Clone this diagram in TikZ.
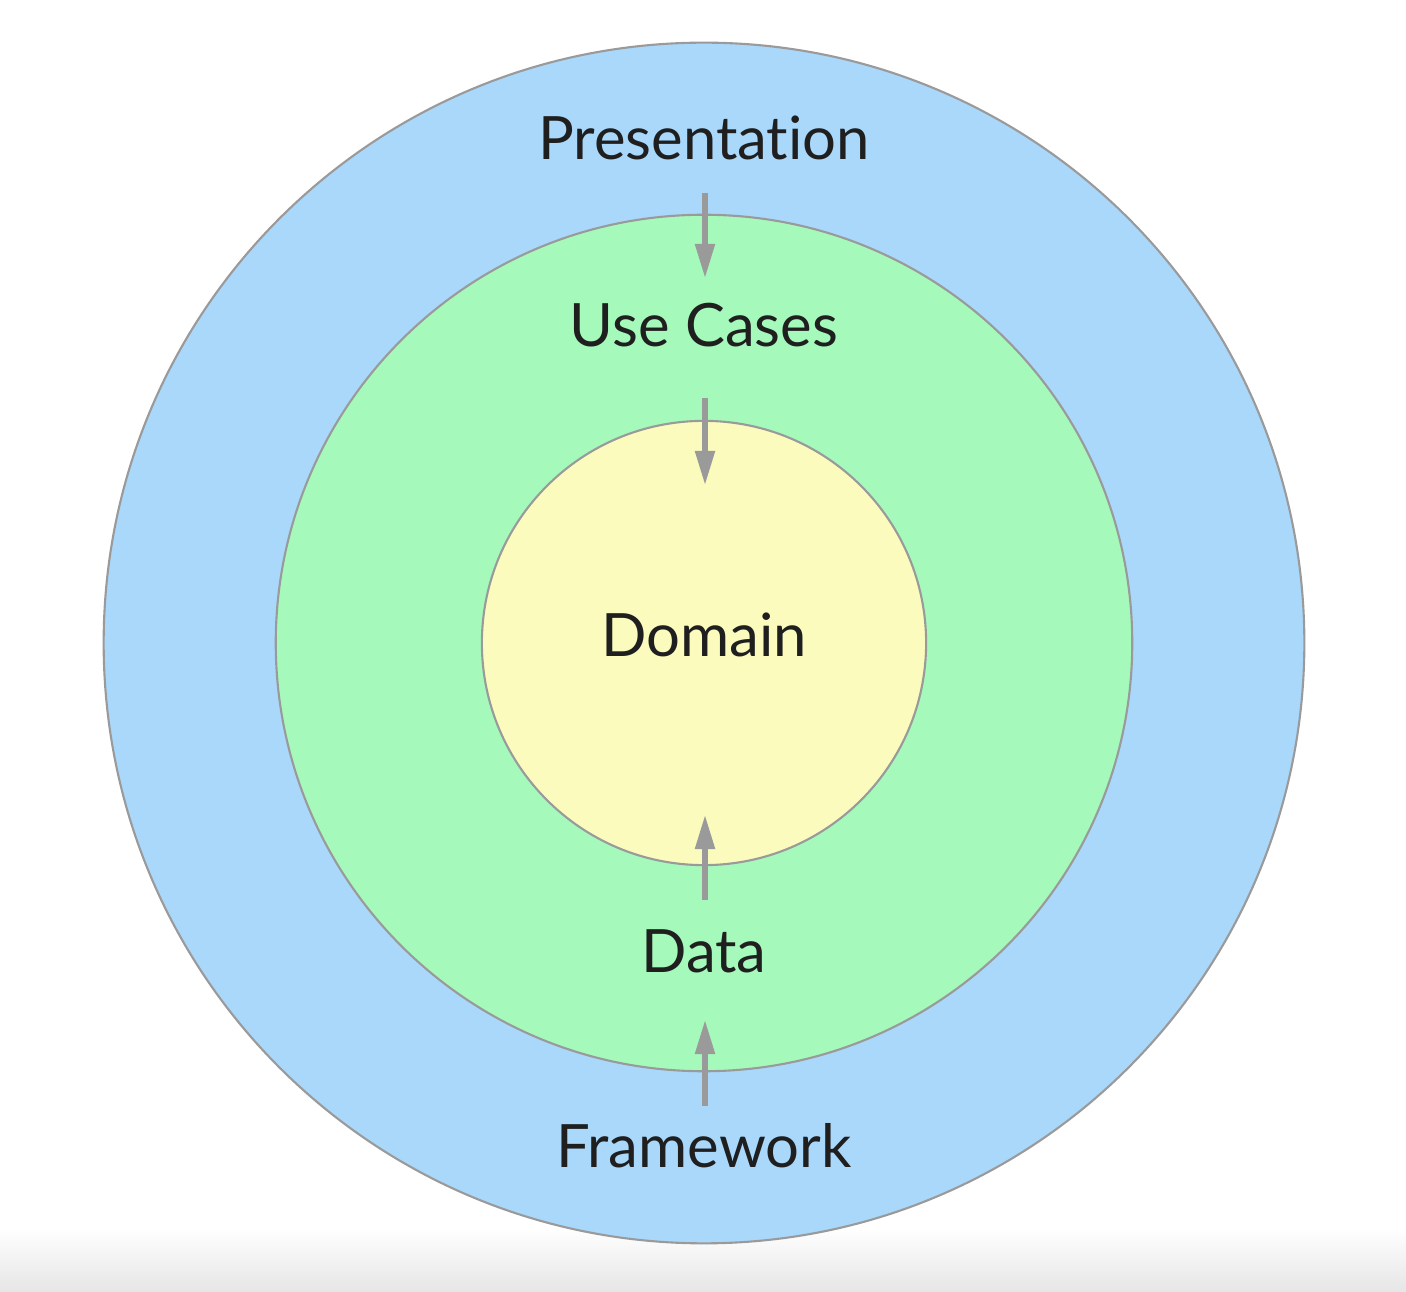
\documentclass[tikz,border=0pt]{standalone}
\usepackage{fontspec}
\setmainfont{Lato}[Ligatures=NoCommon]
\usepackage{tikz}
\usepackage{xcolor}
\usetikzlibrary{arrows.meta}

\definecolor{ringblue}{HTML}{A9D8FB}
\definecolor{ringgreen}{HTML}{A5FABB}
\definecolor{coreyellow}{HTML}{FBFBBE}
\definecolor{edgegray}{HTML}{9A9A9A}

\tikzset{
  ring/.style={circle, draw=edgegray, line width=0.6pt, inner sep=0pt},
  layer/.style={font=\fontsize{17}{20}\selectfont, text=black!88, anchor=base},
  dep/.style={line width=1.5pt, draw=edgegray, -{Triangle[length=0.34cm,width=0.19cm]}}
}

\begin{document}
\begin{tikzpicture}[x=0.01cm, y=-0.01cm]
        \useasboundingbox (0,0) rectangle (1406,1292);
        \fill[white] (0,0) rectangle (1406,1292);
        \shade[top color=white, bottom color=black!10] (0,1228) rectangle (1406,1292);
        \node[ring, fill=ringblue, minimum size=12cm] (outer) at (704,643) {};
        \node[ring, fill=ringgreen, minimum size=8.56cm] (middle) at (704,643) {};
        \node[ring, fill=coreyellow, minimum size=4.44cm] (core) at (704,643) {};
        \node[layer] (pres) at (704,160) {Presentation};
        \node[layer] (uc) at (704,347) {Use Cases};
        \node[layer] (dom) at (704,657) {Domain};
        \node[layer] (data) at (704,972) {Data};
        \node[layer] (fw) at (704,1167) {Framework};
        \coordinate (a1) at (705,193);
        \coordinate (a2) at (705,278);
        \coordinate (b1) at (705,398);
        \coordinate (b2) at (705,485);
        \coordinate (c1) at (705,900);
        \coordinate (c2) at (705,815);
        \coordinate (d1) at (705,1106);
        \coordinate (d2) at (705,1020);
        \draw[dep] (a1) -- (a2);
        \draw[dep] (b1) -- (b2);
        \draw[dep] (c1) -- (c2);
        \draw[dep] (d1) -- (d2);
    \end{tikzpicture}
\end{document}
